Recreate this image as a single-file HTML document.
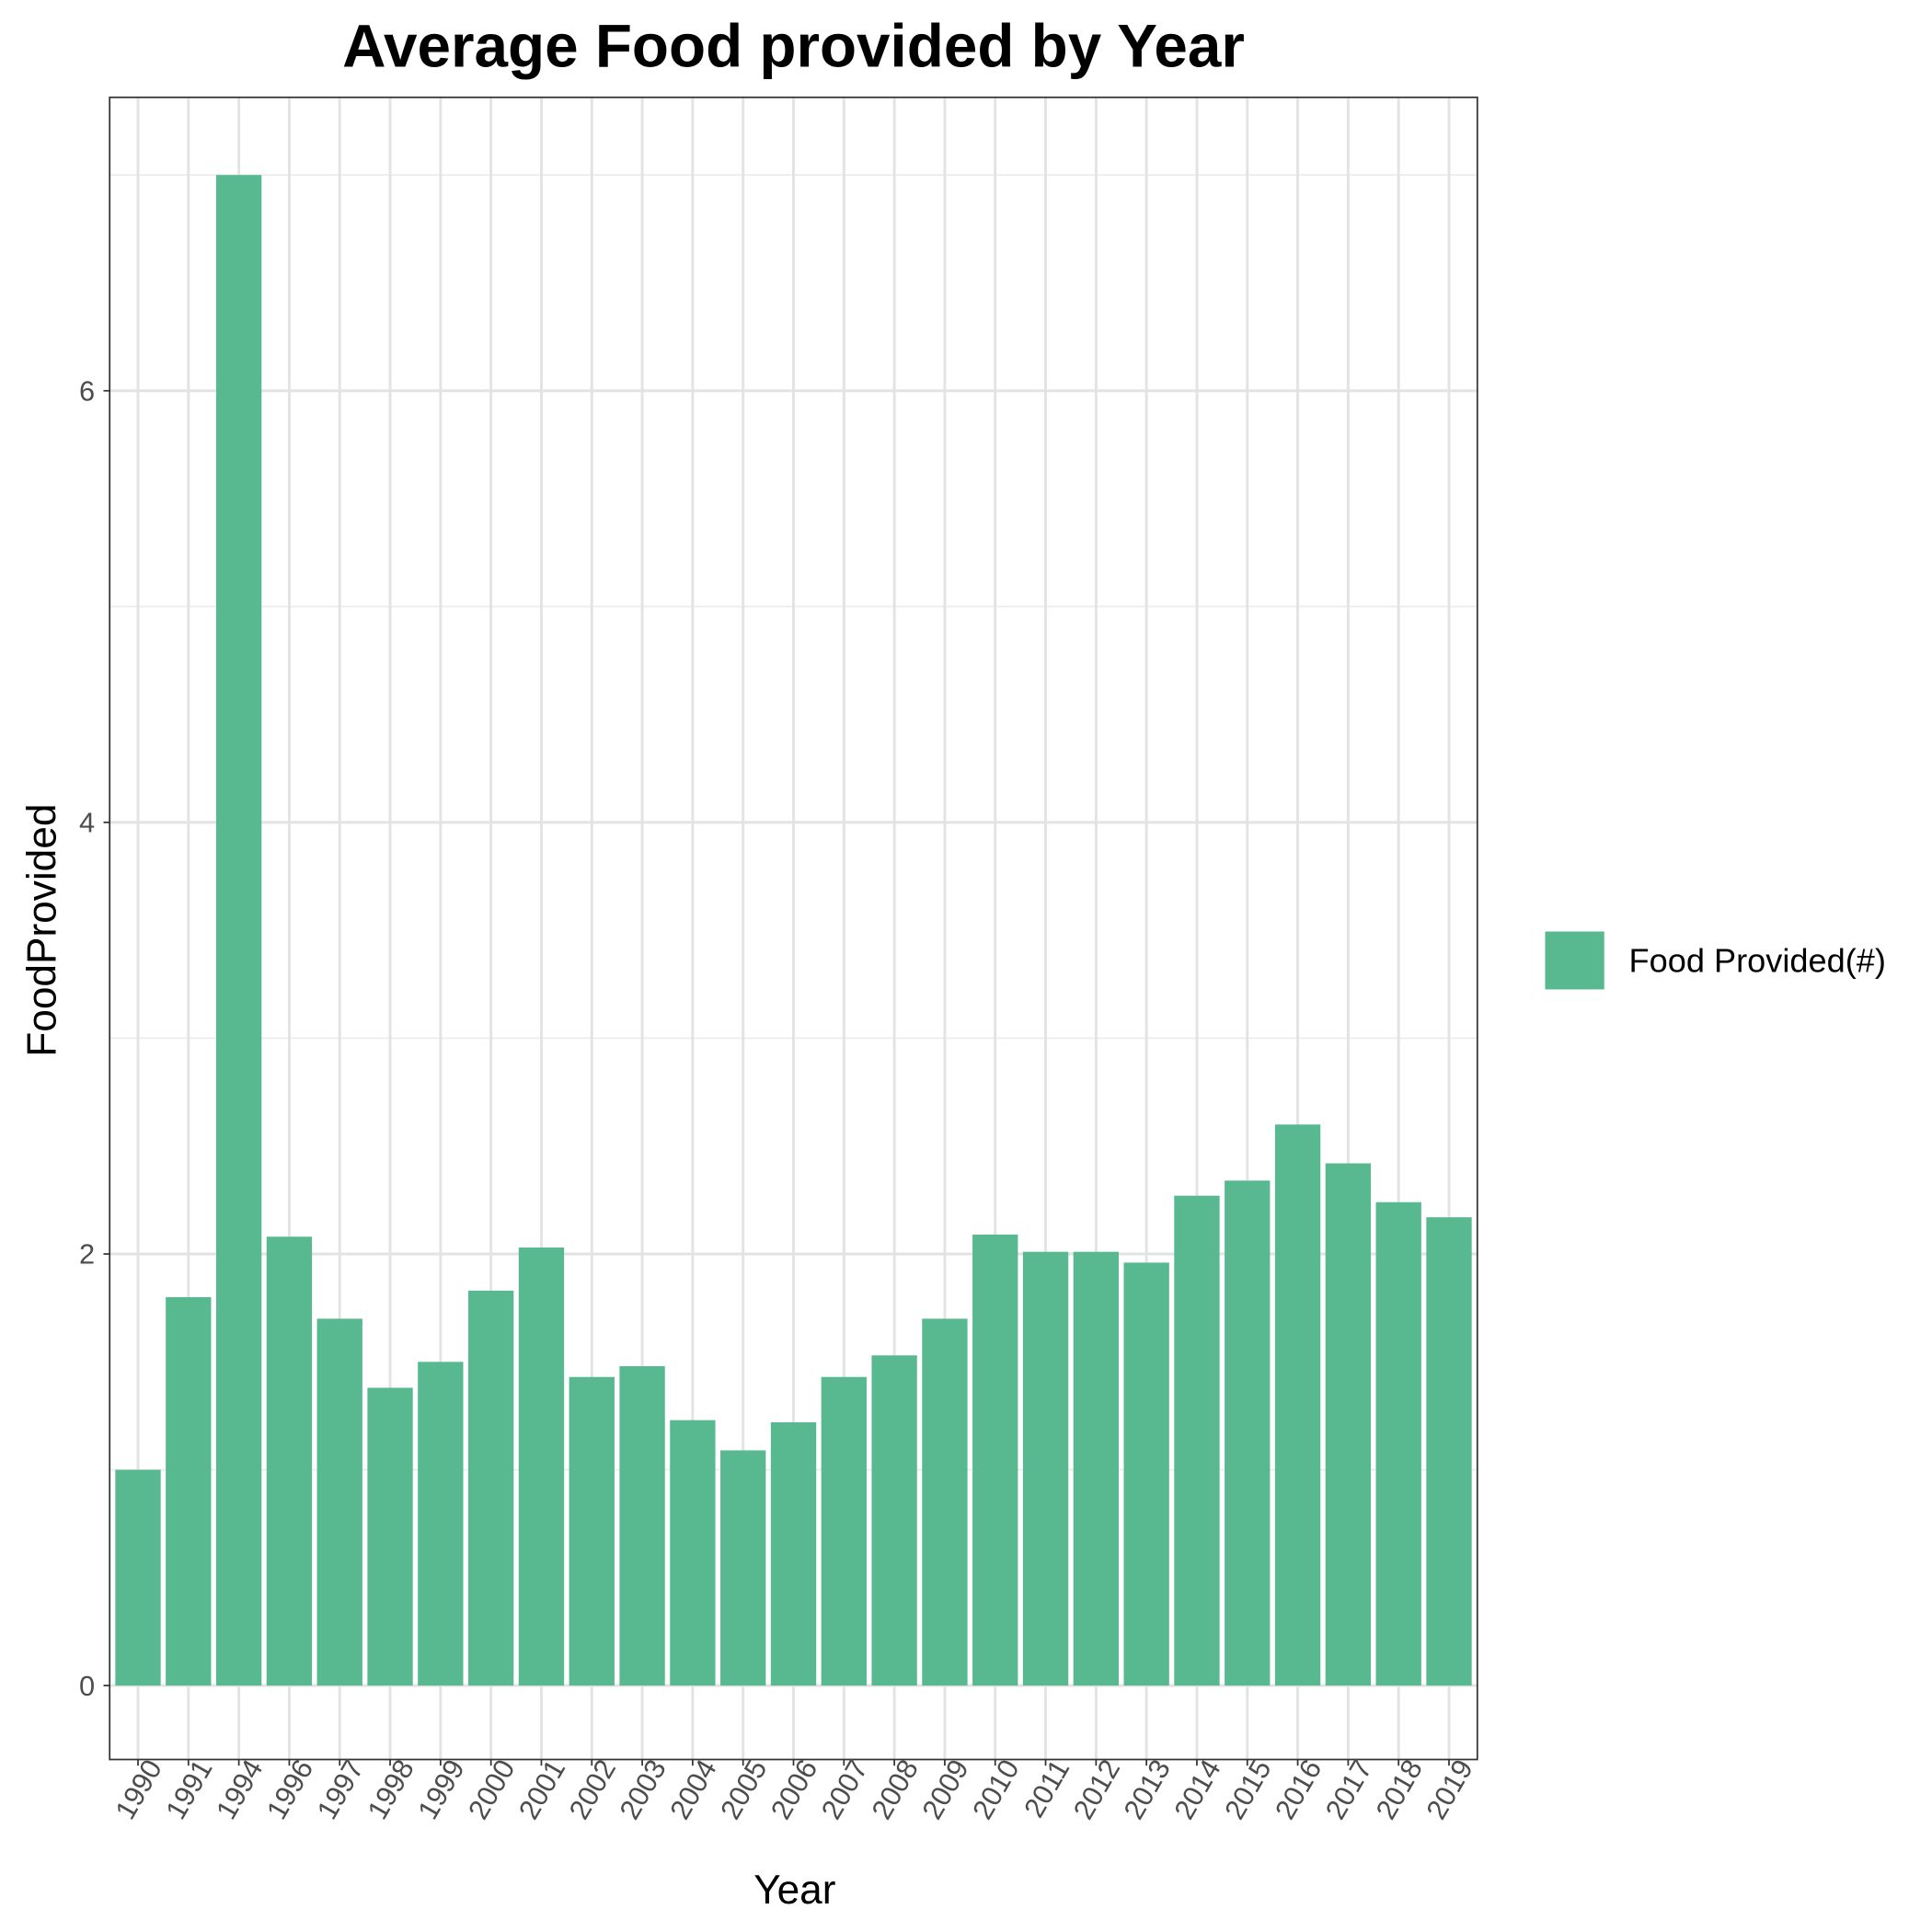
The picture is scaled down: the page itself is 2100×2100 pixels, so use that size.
<!DOCTYPE html>
<html><head><meta charset="utf-8"><style>html,body{margin:0;padding:0;background:#fff}svg{display:block}text{font-family:"Liberation Sans",Arial,sans-serif}</style></head>
<body>
<svg id="chart" width="2100" height="2100" viewBox="0 0 1568 1568" xmlns="http://www.w3.org/2000/svg">
<rect width="1568" height="1568" fill="#fff"/>
<text x="644" y="54" text-anchor="middle" font-size="49" font-weight="bold">Average Food provided by Year</text>
<g id="grid"></g>
<g id="bars"></g>
<rect x="89" y="79" width="1110" height="1349" fill="none" stroke="#333" stroke-width="1.3"/>
<g id="axes"></g>
<text x="645" y="1545" text-anchor="middle" font-size="33">Year</text>
<text transform="translate(45,755) rotate(-90)" text-anchor="middle" font-size="33">FoodProvided</text>
<g>
<rect x="1254" y="756" width="48" height="47" fill="#58b991"/>
<text x="1322" y="789" font-size="27">Food Provided(#)</text>
</g>
</svg>
<script>
const years = ["1990","1991","1994","1996","1997","1998","1999","2000","2001","2002","2003","2004","2005","2006","2007","2008","2009","2010","2011","2012","2013","2014","2015","2016","2017","2018","2019"];
const foodValues = [1.0,1.80,7.0,2.08,1.70,1.38,1.50,1.83,2.03,1.43,1.48,1.23,1.09,1.22,1.43,1.53,1.70,2.09,2.01,2.01,1.96,2.27,2.34,2.60,2.42,2.24,2.17];
const yTicks = [0,2,4,6];
const yMinor = [1,3,5,7];

const NS="http://www.w3.org/2000/svg";
const L=89,R=1199,T=79,B=1428;
const y0=1368, unit=175.14;
function yScale(v){return y0-v*unit;}
const step=(1176-112)/(years.length-1);
function xScale(i){return 112+step*i;}
const bw=step*0.9;
function mk(tag,attrs,parent){const e=document.createElementNS(NS,tag);for(const k in attrs)e.setAttribute(k,attrs[k]);parent.appendChild(e);return e;}
const grid=document.getElementById('grid'),bars=document.getElementById('bars'),axes=document.getElementById('axes');
yMinor.forEach(v=>{const l=mk('line',{x1:L,x2:R,y1:yScale(v),y2:yScale(v),stroke:'#ebebeb','stroke-width':1.2},grid);

});
yTicks.forEach(v=>{const l=mk('line',{x1:L,x2:R,y1:yScale(v),y2:yScale(v),stroke:'#e3e3e3','stroke-width':2.2},grid);


const t=mk('line',{x1:L-5,x2:L,y1:yScale(v),y2:yScale(v),stroke:'#333','stroke-width':1.3},axes);


const tx=mk('text',{x:L-12,y:yScale(v)+8,'text-anchor':'end','font-size':23,fill:'#4d4d4d'},axes);tx.textContent=v;

});
years.forEach((yr,i)=>{const c=xScale(i);
const g=mk('line',{x1:c,x2:c,y1:T,y2:B,stroke:'#e3e3e3','stroke-width':2.2},grid);


const v=foodValues[i];
const b=mk('rect',{x:c-bw/2,y:yScale(v),width:bw,height:yScale(0)-yScale(v),fill:'#58b991'},bars);


const t=mk('line',{x1:c,x2:c,y1:B,y2:B+5,stroke:'#333','stroke-width':1.3},axes);


const tx=mk('text',{transform:`translate(${c+20},${B+6}) rotate(-60)`,'text-anchor':'end','font-size':23,fill:'#4d4d4d'},axes);tx.textContent=yr;

});
</script>
</body></html>
